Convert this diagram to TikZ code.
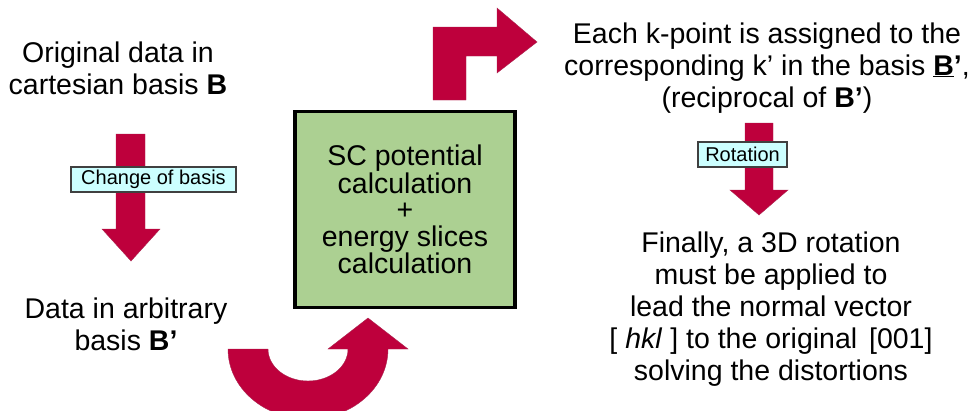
\documentclass[tikz,border=0pt]{standalone}
\usepackage{fontspec}
\setmainfont{Liberation Sans}
\definecolor{arrowred}{RGB}{190,0,60}
\definecolor{boxgreen}{RGB}{172,208,146}
\definecolor{labelcyan}{RGB}{204,255,255}
\definecolor{labelborder}{RGB}{64,64,64}
\tikzset{
  bigtext/.style={font=\fontsize{28.5}{32}\selectfont, align=center, inner sep=0pt, anchor=base},
  blockarrow/.style={fill=arrowred, draw=arrowred!70!gray, line width=0.4pt},
  labelbox/.style={fill=labelcyan, draw=labelborder, line width=1.2pt, inner sep=0pt,
    minimum height=25pt, font=\fontsize{20}{24}\selectfont},
  calcbox/.style={fill=boxgreen, draw=black, line width=3.3pt, inner sep=0pt,
    minimum width=220pt, minimum height=196pt, align=center,
    font=\fontsize{28.5}{26.5}\selectfont}
}
\begin{document}
\begin{tikzpicture}[x=1pt,y=-1pt]
\useasboundingbox (0,0) rectangle (976,410);
\clip (0,0) rectangle (976,410);
% texts
\node[bigtext] (orig) at (118,94) {Original data in\\cartesian basis \textbf{B}};
\node[bigtext] (arb) at (126,350) {Data in arbitrary\\basis \textbf{B’}};
\node[bigtext] (kpt) at (767,107) {Each k-point is assigned to the\\corresponding k’ in the basis \underline{\textbf{B}}\textbf{’},\\(reciprocal of \textbf{B’})};
\node[bigtext] (final) at (771,380) {Finally, a 3D rotation\\must be applied to\\lead the normal vector\\{[} \textit{hkl} ] to the original\hspace{4pt} [001]\\solving the distortions};
% central box
\node[calcbox] (calc) at (405,209.5) {SC potential\\calculation\\+\\energy slices\\calculation};
% arrows
\path[blockarrow] (116,134) -- (145,134) -- (145,229) -- (160,229) -- (131,261) -- (102,229) -- (116,229) -- cycle;
\path[blockarrow] (745,123) -- (773,123) -- (773,190) -- (788,190) -- (759,215) -- (730,190) -- (745,190) -- cycle;
\path[blockarrow] (433,100) -- (433,27) -- (497,27) -- (497,8) -- (537,42) -- (497,73) -- (497,56) -- (466,56) -- (466,100) -- cycle;
\path[blockarrow] (228,349) -- (268,349) arc[start angle=180, end angle=0, x radius=40, y radius=32]
  -- (328,349) -- (368,318) -- (408,349) -- (388,349)
  arc[start angle=0, end angle=180, x radius=80, y radius=70] -- cycle;
% labels
\node[labelbox, minimum width=165pt] (chg) at (153.5,179.5) {Change of basis};
\node[labelbox, minimum width=89pt] (rot) at (742.5,154.5) {Rotation};
\end{tikzpicture}
\end{document}
